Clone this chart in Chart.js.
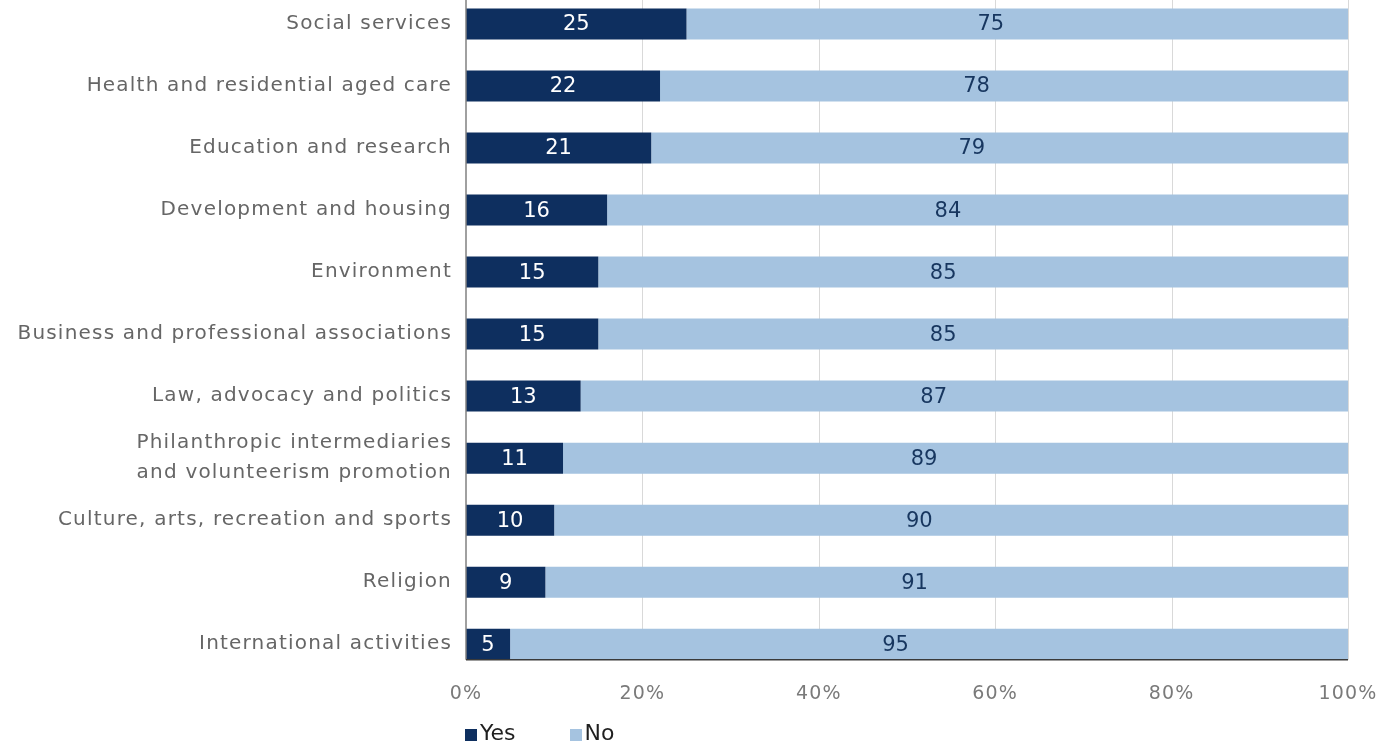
<!DOCTYPE html>
<html>
<head>
<meta charset="utf-8">
<script src="https://cdn.jsdelivr.net/npm/chart.js@4.4.1/dist/chart.umd.min.js"></script>
<style>
  html, body { margin: 0; padding: 0; background: #ffffff; overflow: hidden; }
  body { width: 1400px; height: 744px; position: relative; font-family: "DejaVu Sans", sans-serif; }
  #wrap { position: absolute; left: 0; top: -7px; width: 1400px; height: 751px; }
  #legend { position: absolute; left: 465px; top: 720px; display: flex; font-size: 22px; color: #1f1f1f; }
  #legend .item { display: flex; align-items: center; margin-right: 54px; }
  #legend .box { width: 12px; height: 12px; margin-right: 3px; margin-top: 5px; }
</style>
</head>
<body>
<div id="wrap"><canvas id="chart"></canvas></div>
<div id="legend"></div>
<script>
// Share of organisations answering Yes / No, by sector (%)
const categories = [
  "Social services",
  "Health and residential aged care",
  "Education and research",
  "Development and housing",
  "Environment",
  "Business and professional associations",
  "Law, advocacy and politics",
  ["Philanthropic intermediaries", "and volunteerism promotion"],
  "Culture, arts, recreation and sports",
  "Religion",
  "International activities"
];
const yesValues = [25, 22, 21, 16, 15, 15, 13, 11, 10, 9, 5];
const noValues  = [75, 78, 79, 84, 85, 85, 87, 89, 90, 91, 95];
const xTicks = [0, 20, 40, 60, 80, 100];
const seriesNames = ["Yes", "No"];

const YES_COLOR = "#0e2f5f";
const NO_COLOR = "#a5c3e0";
const FONT = "'DejaVu Sans', sans-serif";

// Bottom edge of the lowest bar, used to end the grid and axis lines
function lowestBarBottom(chart) {
  const meta = chart.getDatasetMeta(0);
  const el = meta.data[meta.data.length - 1];
  return el.y + el.height / 2;
}

// Slightly looser letter spacing for the axis text
const spacingPlugin = {
  id: "axisLetterSpacing",
  beforeDraw(chart) { chart.ctx.letterSpacing = "1.2px"; },
  afterDraw(chart) { chart.ctx.letterSpacing = "0px"; }
};

// Vertical gridlines behind the bars
const gridPlugin = {
  id: "sectorGrid",
  beforeDatasetsDraw(chart) {
    const { ctx, chartArea, scales } = chart;
    const bottom = lowestBarBottom(chart);
    ctx.save();
    ctx.strokeStyle = "#d9d9d9";
    ctx.lineWidth = 1;
    xTicks.forEach(v => {
      if (v === 0) return;
      const x = Math.round(scales.x.getPixelForValue(v)) + 0.5;
      ctx.beginPath();
      ctx.moveTo(x, chartArea.top);
      ctx.lineTo(x, bottom);
      ctx.stroke();
    });
    ctx.restore();
  }
};

// Left and bottom axis lines
const axisPlugin = {
  id: "sectorAxes",
  afterDatasetsDraw(chart) {
    const { ctx, chartArea } = chart;
    const bottom = lowestBarBottom(chart);
    ctx.save();
    ctx.lineWidth = 1.5;
    ctx.strokeStyle = "#808080";
    ctx.beginPath();
    ctx.moveTo(chartArea.left, chartArea.top);
    ctx.lineTo(chartArea.left, bottom);
    ctx.stroke();
    ctx.strokeStyle = "#3a3a3a";
    ctx.beginPath();
    ctx.moveTo(chartArea.left, bottom);
    ctx.lineTo(chartArea.right, bottom);
    ctx.stroke();
    ctx.restore();
  }
};

// Value labels inside each bar segment
const valueLabelPlugin = {
  id: "valueLabels",
  afterDatasetsDraw(chart) {
    const { ctx } = chart;
    ctx.save();
    ctx.letterSpacing = "0px";
    ctx.font = "21px " + FONT;
    ctx.textAlign = "center";
    ctx.textBaseline = "middle";
    chart.data.datasets.forEach((ds, di) => {
      const meta = chart.getDatasetMeta(di);
      const anchor = ds.labelAnchor;
      ctx.fillStyle = ds.labelColor;
      meta.data.forEach((el, i) => {
        const x = el.base + (el.x - el.base) * anchor;
        ctx.fillText(String(ds.data[i]), x, el.y + 1);
      });
    });
    ctx.restore();
  }
};

new Chart(document.getElementById("chart"), {
  type: "bar",
  data: {
    labels: categories,
    datasets: [
      {
        label: seriesNames[0],
        data: yesValues,
        backgroundColor: YES_COLOR,
        labelColor: "#ffffff",
        labelAnchor: 0.5,
        barPercentage: 0.5,
        categoryPercentage: 1
      },
      {
        label: seriesNames[1],
        data: noValues,
        backgroundColor: NO_COLOR,
        labelColor: "#17365f",
        labelAnchor: 0.46,
        barPercentage: 0.5,
        categoryPercentage: 1
      }
    ]
  },
  options: {
    indexAxis: "y",
    responsive: true,
    maintainAspectRatio: false,
    animation: false,
    layout: { padding: { top: 0, right: 52, bottom: 32, left: 0 } },
    plugins: {
      legend: { display: false },
      tooltip: { enabled: false }
    },
    scales: {
      x: {
        stacked: true,
        min: 0,
        max: 100,
        afterBuildTicks(scale) { scale.ticks = xTicks.map(v => ({ value: v })); },
        grid: { display: false, drawTicks: false },
        border: { display: false },
        ticks: {
          padding: 7,
          color: "#7a7a7a",
          font: { family: FONT, size: 19 },
          callback: v => v + "%"
        }
      },
      y: {
        stacked: true,
        afterFit(scale) {
          scale.width = 466;
          scale.paddingTop = 0;
          scale.paddingBottom = 0;
        },
        grid: { display: false, drawTicks: false },
        border: { display: false },
        ticks: {
          autoSkip: false,
          padding: 14,
          color: "#666666",
          font: { family: FONT, size: 20, lineHeight: 1.5 }
        }
      }
    }
  },
  plugins: [spacingPlugin, gridPlugin, axisPlugin, valueLabelPlugin]
});

// Legend built from the series names and colours
const legend = document.getElementById("legend");
[[seriesNames[0], YES_COLOR], [seriesNames[1], NO_COLOR]].forEach(([name, color]) => {
  const item = document.createElement("div");
  item.className = "item";
  const box = document.createElement("span");
  box.className = "box";
  box.style.background = color;
  const text = document.createElement("span");
  text.textContent = name;
  item.appendChild(box);
  item.appendChild(text);
  legend.appendChild(item);
});
</script>
</body>
</html>
